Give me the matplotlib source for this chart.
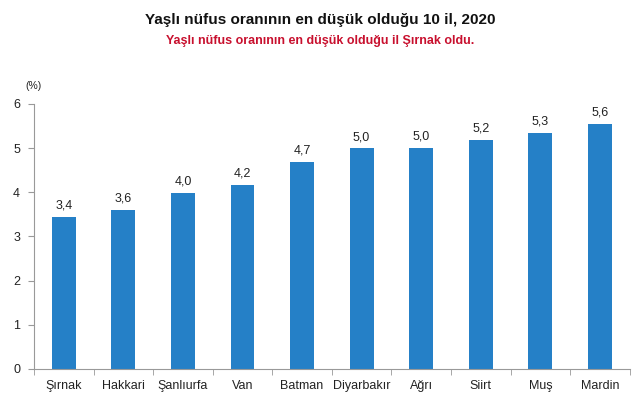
import numpy as np
import matplotlib.pyplot as plt

plt.rcParams['font.family'] = ['Liberation Sans', 'DejaVu Sans']

# data
provinces = ['Şırnak', 'Hakkari', 'Şanlıurfa', 'Van', 'Batman',
             'Diyarbakır', 'Ağrı', 'Siirt', 'Muş', 'Mardin']
ratios = [3.44, 3.6, 3.98, 4.17, 4.68, 4.99, 5.0, 5.18, 5.34, 5.55]
value_labels = ['3,4', '3,6', '4,0', '4,2', '4,7', '5,0', '5,0', '5,2', '5,3', '5,6']

fig = plt.figure(figsize=(6.4, 4.09), dpi=100)
ax = fig.add_axes([0.053, 0.098, 0.931, 0.648])

x = np.arange(len(provinces))
bars = ax.bar(x, ratios, width=0.4, color='#2580C7')

for b, lab in zip(bars, value_labels):
    ax.text(b.get_x() + b.get_width() / 2, b.get_height() + 0.12, lab,
            ha='center', va='bottom', fontsize=9, color='#222222')

ax.set_xlim(-0.5, len(provinces) - 0.5)
ax.set_ylim(0, 6)
ax.set_yticks(range(0, 7))
ax.set_xticks(x)
ax.set_xticklabels(provinces, fontsize=9, color='#222222')
ax.set_xticks(np.arange(-0.5, len(provinces)), minor=True)
ax.tick_params(axis='x', which='major', length=0, pad=8)
ax.tick_params(axis='x', which='minor', length=4, color='#999999')
ax.tick_params(axis='y', length=4, color='#999999', labelsize=9,
               labelcolor='#222222', pad=6)

for s in ['top', 'right']:
    ax.spines[s].set_visible(False)
ax.spines['left'].set_color('#999999')
ax.spines['bottom'].set_color('#999999')

fig.text(0.052, 0.782, '(%)', fontsize=7.5, color='#222222', ha='center')

fig.text(0.5, 0.952, 'Yaşlı nüfus oranının en düşük olduğu 10 il, 2020',
         ha='center', va='center', fontsize=11, fontweight='bold', color='#111111')
fig.text(0.5, 0.9, 'Yaşlı nüfus oranının en düşük olduğu il Şırnak oldu.',
         ha='center', va='center', fontsize=9, fontweight='bold', color='#C8102E')

fig.savefig('out.png', dpi=100)
